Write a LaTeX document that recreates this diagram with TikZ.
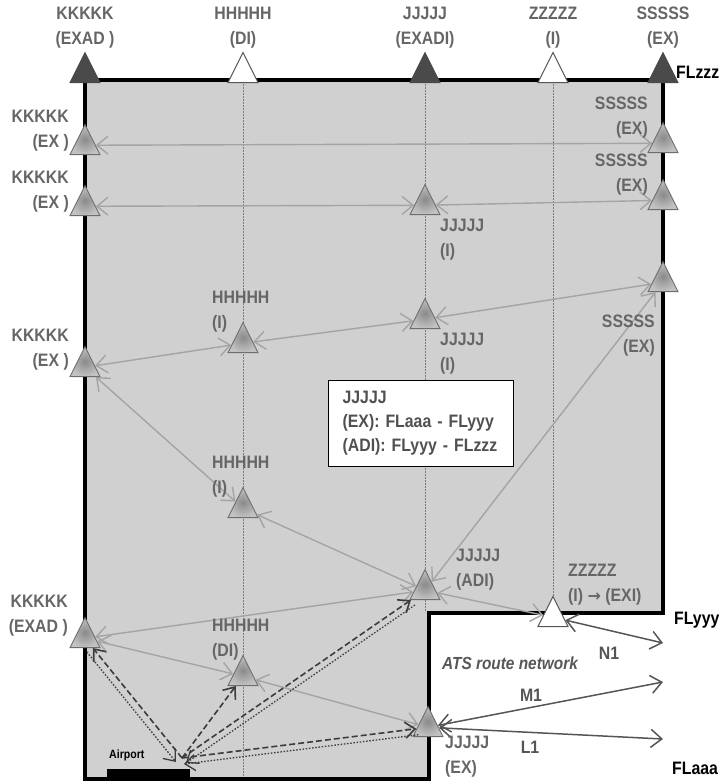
\documentclass[tikz,border=0pt]{standalone}
\usepackage{fontspec}
\setmainfont{Liberation Sans}[FakeStretch=0.88, BoldFont=Liberation Sans Bold, ItalicFont=Liberation Sans Italic, BoldItalicFont=Liberation Sans Bold Italic]
\newfontfamily\arrowfont{DejaVu Sans}
\usetikzlibrary{shapes.geometric,arrows.meta}
\definecolor{regfill}{HTML}{D0D0D0}
\definecolor{lbl}{HTML}{666666}
\definecolor{boxtxt}{HTML}{505050}
\definecolor{darktri}{HTML}{4A4A4A}
\definecolor{triedge}{HTML}{6E6E6E}
\definecolor{triin}{HTML}{8A8A8A}
\definecolor{triout}{HTML}{C2C2C2}
\definecolor{liteln}{HTML}{A4A4A4}
\definecolor{darkln}{HTML}{555555}
\definecolor{dashln}{HTML}{3C3C3C}
\definecolor{vln}{HTML}{7C7C7C}
\tikzset{
  tri/.style={isosceles triangle, isosceles triangle stretches, shape border rotate=90,
    minimum width=30pt, minimum height=30pt, inner sep=0pt, anchor=lower side},
  gtri/.style={tri, draw=triedge, line width=0.9pt, inner color=triin, outer color=triout},
  dtri/.style={tri, draw=darktri, fill=darktri, line width=0.8pt},
  wtri/.style={tri, draw=darkln, fill=white, line width=1pt},
  lab/.style={text=lbl, font=\bfseries\fontsize{18}{25}\selectfont, inner sep=0pt},
  labr/.style={lab, align=right, anchor=east},
  labl/.style={lab, align=left, anchor=west},
  labc/.style={lab, align=center},
  fl/.style={text=black, font=\bfseries\fontsize{18}{22}\selectfont, inner sep=0pt, anchor=west},
  lite/.style={draw=liteln, line width=1.4pt, >={Straight Barb[length=11pt,width=18pt]}, <->},
  drk/.style={draw=darkln, line width=1.5pt, >={Straight Barb[length=11pt,width=18pt]}, <->},
  dsh/.style={draw=dashln, line width=1.6pt, dash pattern=on 6pt off 3pt, >={Straight Barb[length=10pt,width=16pt]}, ->},
  dtt/.style={draw=dashln, line width=1.3pt, dash pattern=on 1.5pt off 1.7pt, >={Straight Barb[length=10pt,width=16pt]}, ->},
  vline/.style={draw=vln, line width=0.6pt, dash pattern=on 2pt off 1pt},
  infobox/.style={draw=black, line width=1.2pt, fill=white, text=boxtxt, align=left,
    font=\bfseries\fontsize{18}{24}\selectfont, text width=157pt, inner xsep=14pt,
    minimum height=86pt, anchor=north west},
}
\begin{document}
\begin{tikzpicture}[x=1pt,y=-1pt]
\useasboundingbox (0,0) rectangle (723,784);
% region
\fill[regfill] (85,80) -- (663,80) -- (663,613) -- (429,613) -- (429,779) -- (85,779) -- cycle;
% vertical dotted lines
\draw[vline] (243,84) -- (243,777);
\draw[vline] (425,84) -- (425,612);
\draw[vline] (553,84) -- (553,598);
% outline
\draw[line width=4pt, line join=miter] (85,80) -- (663,80) -- (663,613) -- (429,613) -- (429,779) -- (85,779) -- cycle;
% top triangles
\node[dtri] (tK) at (85,83) {};
\node[wtri] (tH) at (243,83) {};
\node[dtri] (tJ) at (425,83) {};
\node[wtri] (tZ) at (553,83) {};
\node[dtri] (tS) at (663,83) {};
% grey triangles
\node[gtri] (k1) at (85,155) {};
\node[gtri] (k2) at (85,216) {};
\node[gtri] (k3) at (85,377) {};
\node[gtri] (kA) at (85,648) {};
\node[gtri] (s1) at (663,153) {};
\node[gtri] (s2) at (663,210) {};
\node[gtri] (s3) at (663,292) {};
\node[gtri] (j1) at (425,215) {};
\node[gtri] (j2) at (425,329) {};
\node[gtri] (jA) at (425,600) {};
\node[gtri] (jE) at (428,737) {};
\node[gtri] (h1) at (243,353) {};
\node[gtri] (h2) at (243,518) {};
\node[gtri] (hD) at (243,686) {};
\node[wtri] (z) at (553,627) {};
% light connectors
\draw[lite] (k1) -- (s1);
\draw[lite] (k2) -- (j1);
\draw[lite] (j1) -- (s2);
\draw[lite] (k3) -- (h1);
\draw[lite] (h1) -- (j2);
\draw[lite] (j2) -- (s3);
\draw[lite] (k3) -- (h2);
\draw[lite] (h2) -- (jA);
\draw[lite] (jA) -- (s3);
\draw[lite] (kA) -- (jA);
\draw[lite] (jA) -- (z);
\draw[lite] (kA) -- (hD);
\draw[lite] (hD) -- (jE);
% dark route connectors
\coordinate (n1e) at (663,643);
\coordinate (m1e) at (663,682);
\coordinate (l1e) at (663,739);
\draw[drk] (z) -- (n1e);
\draw[drk] (jE) -- (m1e);
\draw[drk] (jE) -- (l1e);
% airport
\node[fill=black, minimum width=83pt, minimum height=9pt, inner sep=0pt, anchor=south west] (apbar) at (107,778) {};
\node[text=black, font=\bfseries\fontsize{12}{14}\selectfont, inner sep=0pt, anchor=west] (aptxt) at (109,755) {Airport};
\coordinate (ap) at (182,758);
\draw[dsh] (ap) -- (kA);
\draw[dsh] (ap) -- (hD);
\draw[dsh] (ap) -- (jA);
\draw[dsh] (ap) -- (jE);
\draw[dtt, transform canvas={shift={(-6pt,-4pt)}}] (kA) -- (ap);
\draw[dtt, transform canvas={shift={(4pt,-5pt)}}] (jA) -- (ap);
\draw[dtt, transform canvas={shift={(2pt,-6pt)}}] (jE) -- (ap);
% info box
\node[infobox] (bx) at (328,380) {JJJJJ\\(EX): FLaaa - FLyyy\\(ADI): FLyyy - FLzzz};
% top labels
\node[labc] (ltK) at (85,28) {KKKKK\\(EXAD )};
\node[labc] (ltH) at (243,28) {HHHHH\\(DI)};
\node[labc] (ltJ) at (425,28) {JJJJJ\\(EXADI)};
\node[labc] (ltZ) at (553,28) {ZZZZZ\\(I)};
\node[labc] (ltS) at (663,28) {SSSSS\\(EX)};
% side labels
\node[labr] (lk1) at (69,131) {KKKKK\\(EX )};
\node[labr] (lk2) at (69,192) {KKKKK\\(EX )};
\node[labr] (lk3) at (69,350) {KKKKK\\(EX )};
\node[labr] (lkA) at (68,616) {KKKKK\\(EXAD )};
\node[labr] (ls1) at (648,118) {SSSSS\\(EX)};
\node[labr] (ls2) at (648,175) {SSSSS\\(EX)};
\node[labr] (ls3) at (655,336) {SSSSS\\(EX)};
\node[labl] (lj1) at (440,240) {JJJJJ\\(I)};
\node[labl] (lj2) at (440,354) {JJJJJ\\(I)};
\node[labl] (ljA) at (456,570) {JJJJJ\\(ADI)};
\node[labl] (ljE) at (445,757) {JJJJJ\\(EX)};
\node[labl] (lh1) at (212,312) {HHHHH\\(I)};
\node[labl] (lh2) at (212,477) {HHHHH\\(I)};
\node[labl] (lhD) at (212,640) {HHHHH\\(DI)};
\node[labl] (lz) at (568,585) {ZZZZZ\\(I) {\arrowfont\fontsize{16}{25}\selectfont →} (EXI)};
% route labels
\node[text=lbl!85!black, font=\bfseries\itshape\fontsize{17.5}{20}\selectfont, inner sep=0pt] (ats) at (510,663) {ATS route network};
\node[text=darkln, font=\bfseries\fontsize{18}{20}\selectfont, inner sep=0pt] (ln1) at (609,653) {N1};
\node[text=darkln, font=\bfseries\fontsize{18}{20}\selectfont, inner sep=0pt] (lm1) at (531,695) {M1};
\node[text=darkln, font=\bfseries\fontsize{18}{20}\selectfont, inner sep=0pt] (ll1) at (530,747) {L1};
% flight levels
\node[fl] (flz) at (676,72) {FLzzz};
\node[fl] (fly) at (674,620) {FLyyy};
\node[fl] (fla) at (672,768) {FLaaa};
\end{tikzpicture}
\end{document}
